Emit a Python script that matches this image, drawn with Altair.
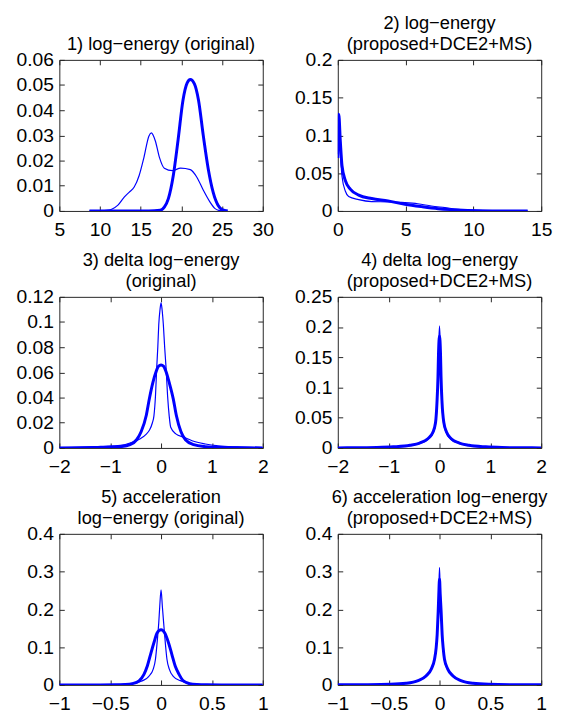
import altair as alt
import pandas as pd

# ---------------- data ----------------
TITLES = [
    "1) log\u2212energy (original)",
    ["2) log\u2212energy", "(proposed+DCE2+MS)"],
    ["3) delta log\u2212energy", "(original)"],
    ["4) delta log\u2212energy", "(proposed+DCE2+MS)"],
    ["5) acceleration", "log\u2212energy (original)"],
    ["6) acceleration log\u2212energy", "(proposed+DCE2+MS)"],
]

# panel 1
P1_THIN_X = [8.7, 10.0, 11.0, 11.5, 12.2, 13.0, 13.6, 14.2, 14.8, 15.4, 16.0, 16.3, 16.8, 17.3, 17.9, 18.9, 19.9, 21.1, 21.9, 22.7, 23.5, 24.1, 24.6, 25.3]
P1_THIN_Y = [0, 0, 0.0003, 0.0008, 0.0023, 0.0056, 0.0075, 0.0095, 0.014, 0.0213, 0.0297, 0.031, 0.0278, 0.0213, 0.017, 0.016, 0.017, 0.0164, 0.0134, 0.0082, 0.0036, 0.001, 0.0002, 0]
P1_THICK_X = [8.7, 12.0, 16.0, 17.4, 17.9, 18.4, 19.0, 19.6, 20.2, 20.7, 21.1, 21.6, 22.1, 22.7, 23.3, 23.9, 24.5, 25.0, 25.7]
P1_THICK_Y = [0, 0, 0, 0.0003, 0.0015, 0.0049, 0.014, 0.0284, 0.0441, 0.0508, 0.0522, 0.0505, 0.0441, 0.0297, 0.0167, 0.0075, 0.0023, 0.0006, 0]
P1_XTICKS = [5, 10, 15, 20, 25, 30]
P1_YTICKS = [0, 0.01, 0.02, 0.03, 0.04, 0.05, 0.06]

# panel 2
P2_THIN_X = [0, 0.07, 0.19, 0.31, 0.56, 0.8, 1.54, 2.5, 3.7, 4.95, 5.9, 6.9, 7.9, 8.85, 9.8, 11.0, 12.5, 14.0]
P2_THIN_Y = [0.075, 0.125, 0.077, 0.046, 0.026, 0.019, 0.015, 0.0124, 0.012, 0.011, 0.0095, 0.0066, 0.0044, 0.0022, 0.001, 0.0003, 0.0001, 0]
P2_THICK_X = [0, 0.07, 0.19, 0.31, 0.56, 0.92, 1.54, 2.5, 3.7, 4.95, 6.17, 7.4, 8.85, 10.3, 12.0, 14.0]
P2_THICK_Y = [0.07, 0.128, 0.091, 0.06, 0.040, 0.029, 0.021, 0.0164, 0.0133, 0.0089, 0.0057, 0.003, 0.0013, 0.0004, 0.0001, 0]
P2_XTICKS = [0, 5, 10, 15]
P2_YTICKS = [0, 0.05, 0.1, 0.15, 0.2]

# panel 3
P3_THIN_X = [-2, -1.6, -1.19, -0.8, -0.55, -0.4, -0.29, -0.23, -0.17, -0.14, -0.11, -0.084, -0.064, -0.045, -0.02, 0, 0.02, 0.045, 0.071, 0.097, 0.129, 0.16, 0.19, 0.29, 0.45, 0.61, 0.87, 1.13, 1.5, 2]
P3_THIN_Y = [0.0001, 0.0005, 0.0013, 0.0021, 0.0047, 0.0075, 0.011, 0.014, 0.02, 0.0255, 0.041, 0.0646, 0.08, 0.098, 0.11, 0.1153, 0.11, 0.098, 0.08, 0.0646, 0.041, 0.0255, 0.0164, 0.0112, 0.0085, 0.0057, 0.0031, 0.0016, 0.0008, 0.0002]
P3_THICK_X = [-2, -1.2, -0.8, -0.61, -0.48, -0.39, -0.29, -0.23, -0.16, -0.097, -0.05, 0, 0.05, 0.097, 0.16, 0.24, 0.3, 0.39, 0.48, 0.64, 0.87, 1.2, 2]
P3_THICK_Y = [0, 0.0003, 0.001, 0.0026, 0.0065, 0.013, 0.026, 0.039, 0.052, 0.0607, 0.0648, 0.0659, 0.0648, 0.0607, 0.052, 0.039, 0.026, 0.013, 0.0065, 0.0026, 0.001, 0.0003, 0]
P3_XTICKS = [-2, -1, 0, 1, 2]
P3_YTICKS = [0, 0.02, 0.04, 0.06, 0.08, 0.1, 0.12]

# panel 4
P4_X = [-2, -1.6, -1.23, -0.91, -0.58, -0.39, -0.23, -0.13, -0.078, -0.05, -0.03, -0.02, 0, 0.02, 0.03, 0.05, 0.085, 0.14, 0.23, 0.39, 0.58, 0.91, 1.23, 1.6, 2]
P4_THIN_Y = [0.0001, 0.0002, 0.0005, 0.0014, 0.0038, 0.0075, 0.014, 0.024, 0.039, 0.07, 0.112, 0.158, 0.202, 0.158, 0.112, 0.07, 0.039, 0.024, 0.014, 0.0075, 0.0038, 0.0014, 0.0005, 0.0002, 0.0001]
P4_THICK_Y = [0.0001, 0.0003, 0.0007, 0.0018, 0.0044, 0.0081, 0.0153, 0.026, 0.042, 0.075, 0.118, 0.155, 0.185, 0.155, 0.118, 0.075, 0.042, 0.026, 0.0153, 0.0081, 0.0044, 0.0018, 0.0007, 0.0003, 0.0001]
P4_XTICKS = [-2, -1, 0, 1, 2]
P4_YTICKS = [0, 0.05, 0.1, 0.15, 0.2, 0.25]

# panel 5
P5_THIN_X = [-1, -0.7, -0.5, -0.38, -0.28, -0.18, -0.12, -0.077, -0.055, -0.039, -0.023, -0.013, 0, 0.013, 0.026, 0.042, 0.058, 0.081, 0.12, 0.19, 0.27, 0.36, 0.5, 0.7, 1]
P5_THIN_Y = [0, 0.0001, 0.0005, 0.0017, 0.0043, 0.0113, 0.0227, 0.042, 0.068, 0.111, 0.163, 0.207, 0.252, 0.207, 0.163, 0.111, 0.068, 0.042, 0.0227, 0.0113, 0.0043, 0.0017, 0.0005, 0.0001, 0]
P5_THICK_X = [-1, -0.6, -0.45, -0.35, -0.28, -0.216, -0.168, -0.135, -0.103, -0.071, -0.038, 0, 0.035, 0.074, 0.106, 0.139, 0.177, 0.219, 0.28, 0.35, 0.45, 0.6, 1]
P5_THICK_Y = [0, 0, 0.0002, 0.001, 0.0035, 0.011, 0.028, 0.05, 0.081, 0.111, 0.138, 0.146, 0.138, 0.111, 0.081, 0.05, 0.028, 0.011, 0.0035, 0.001, 0.0002, 0, 0]
P5_XTICKS = [-1, -0.5, 0, 0.5, 1]
P5_YTICKS = [0, 0.1, 0.2, 0.3, 0.4]

# panel 6
P6_X = [-1, -0.75, -0.49, -0.33, -0.21, -0.13, -0.081, -0.049, -0.033, -0.023, -0.013, -0.007, 0, 0.007, 0.016, 0.026, 0.036, 0.049, 0.081, 0.13, 0.21, 0.33, 0.49, 0.75, 1]
P6_THIN_Y = [0.0002, 0.0005, 0.0015, 0.004, 0.011, 0.023, 0.04, 0.065, 0.094, 0.128, 0.19, 0.25, 0.311, 0.25, 0.19, 0.128, 0.094, 0.065, 0.04, 0.023, 0.011, 0.004, 0.0015, 0.0005, 0.0002]
P6_THICK_Y = [0.0002, 0.0006, 0.0017, 0.0043, 0.0115, 0.0245, 0.042, 0.068, 0.098, 0.133, 0.194, 0.24, 0.28, 0.24, 0.194, 0.133, 0.098, 0.068, 0.042, 0.0245, 0.0115, 0.0043, 0.0017, 0.0006, 0.0002]
P6_XTICKS = [-1, -0.5, 0, 0.5, 1]
P6_YTICKS = [0, 0.1, 0.2, 0.3, 0.4]

# ---------------- styling ----------------
BLUE = "#0000ff"
FRAME = "#262626"
FONT = "Liberation Sans"
W, H = 206, 153
TICK = 5
LABEL = "format(datum.value, '~g')"


def panel(title, thin_x, thin_y, thick_x, thick_y, xticks, yticks):
    thin = pd.DataFrame({"x": thin_x, "y": thin_y})
    thick = pd.DataFrame({"x": thick_x, "y": thick_y})
    xs = alt.Scale(domain=[xticks[0], xticks[-1]], nice=False, zero=False)
    ys = alt.Scale(domain=[yticks[0], yticks[-1]], nice=False, zero=False)
    common = dict(grid=False, domain=False, title=None, tickSize=TICK,
                  offset=-TICK, labelFlush=False, labelOverlap=False)
    a = alt.Chart(thin).mark_line(color=BLUE, strokeWidth=1.2,
                                  interpolate="monotone", clip=True).encode(
        x=alt.X("x:Q", scale=xs,
                axis=alt.Axis(values=xticks, labelExpr=LABEL, orient="bottom",
                              labelPadding=10, **common)),
        y=alt.Y("y:Q", scale=ys,
                axis=alt.Axis(values=yticks, labelExpr=LABEL, orient="left",
                              labelPadding=6, **common)),
    )
    b = alt.Chart(thick).mark_line(color=BLUE, strokeWidth=3,
                                   interpolate="monotone", clip=True).encode(
        x=alt.X("x:Q", scale=xs,
                axis=alt.Axis(values=xticks, orient="top", labels=False, **common)),
        y=alt.Y("y:Q", scale=ys,
                axis=alt.Axis(values=yticks, orient="right", labels=False, **common)),
    )
    return (
        alt.layer(a, b)
        .resolve_axis(x="independent", y="independent")
        .properties(width=W, height=H, title=alt.Title(text=title))
    )


panels = [
    panel(TITLES[0], P1_THIN_X, P1_THIN_Y, P1_THICK_X, P1_THICK_Y, P1_XTICKS, P1_YTICKS),
    panel(TITLES[1], P2_THIN_X, P2_THIN_Y, P2_THICK_X, P2_THICK_Y, P2_XTICKS, P2_YTICKS),
    panel(TITLES[2], P3_THIN_X, P3_THIN_Y, P3_THICK_X, P3_THICK_Y, P3_XTICKS, P3_YTICKS),
    panel(TITLES[3], P4_X, P4_THIN_Y, P4_X, P4_THICK_Y, P4_XTICKS, P4_YTICKS),
    panel(TITLES[4], P5_THIN_X, P5_THIN_Y, P5_THICK_X, P5_THICK_Y, P5_XTICKS, P5_YTICKS),
    panel(TITLES[5], P6_X, P6_THIN_Y, P6_X, P6_THICK_Y, P6_XTICKS, P6_YTICKS),
]

chart = (
    alt.concat(*panels, columns=2,
               spacing=alt.RowColnumber(row=87, column=76), bounds="flush")
    .properties(padding={"left": 7, "top": 1, "right": 5, "bottom": 2},
                background="white")
    .configure_view(stroke=FRAME, strokeWidth=1)
    .configure_axis(labelFont=FONT, labelFontSize=19.5, labelColor="black",
                    tickColor=FRAME, tickWidth=1)
    .configure_title(font=FONT, fontSize=18.5, fontWeight="normal",
                     color="black", anchor="middle", frame="group",
                     offset=-4, lineHeight=22)
)

chart.save("out.html", embed_options={"renderer": "svg", "actions": False})
